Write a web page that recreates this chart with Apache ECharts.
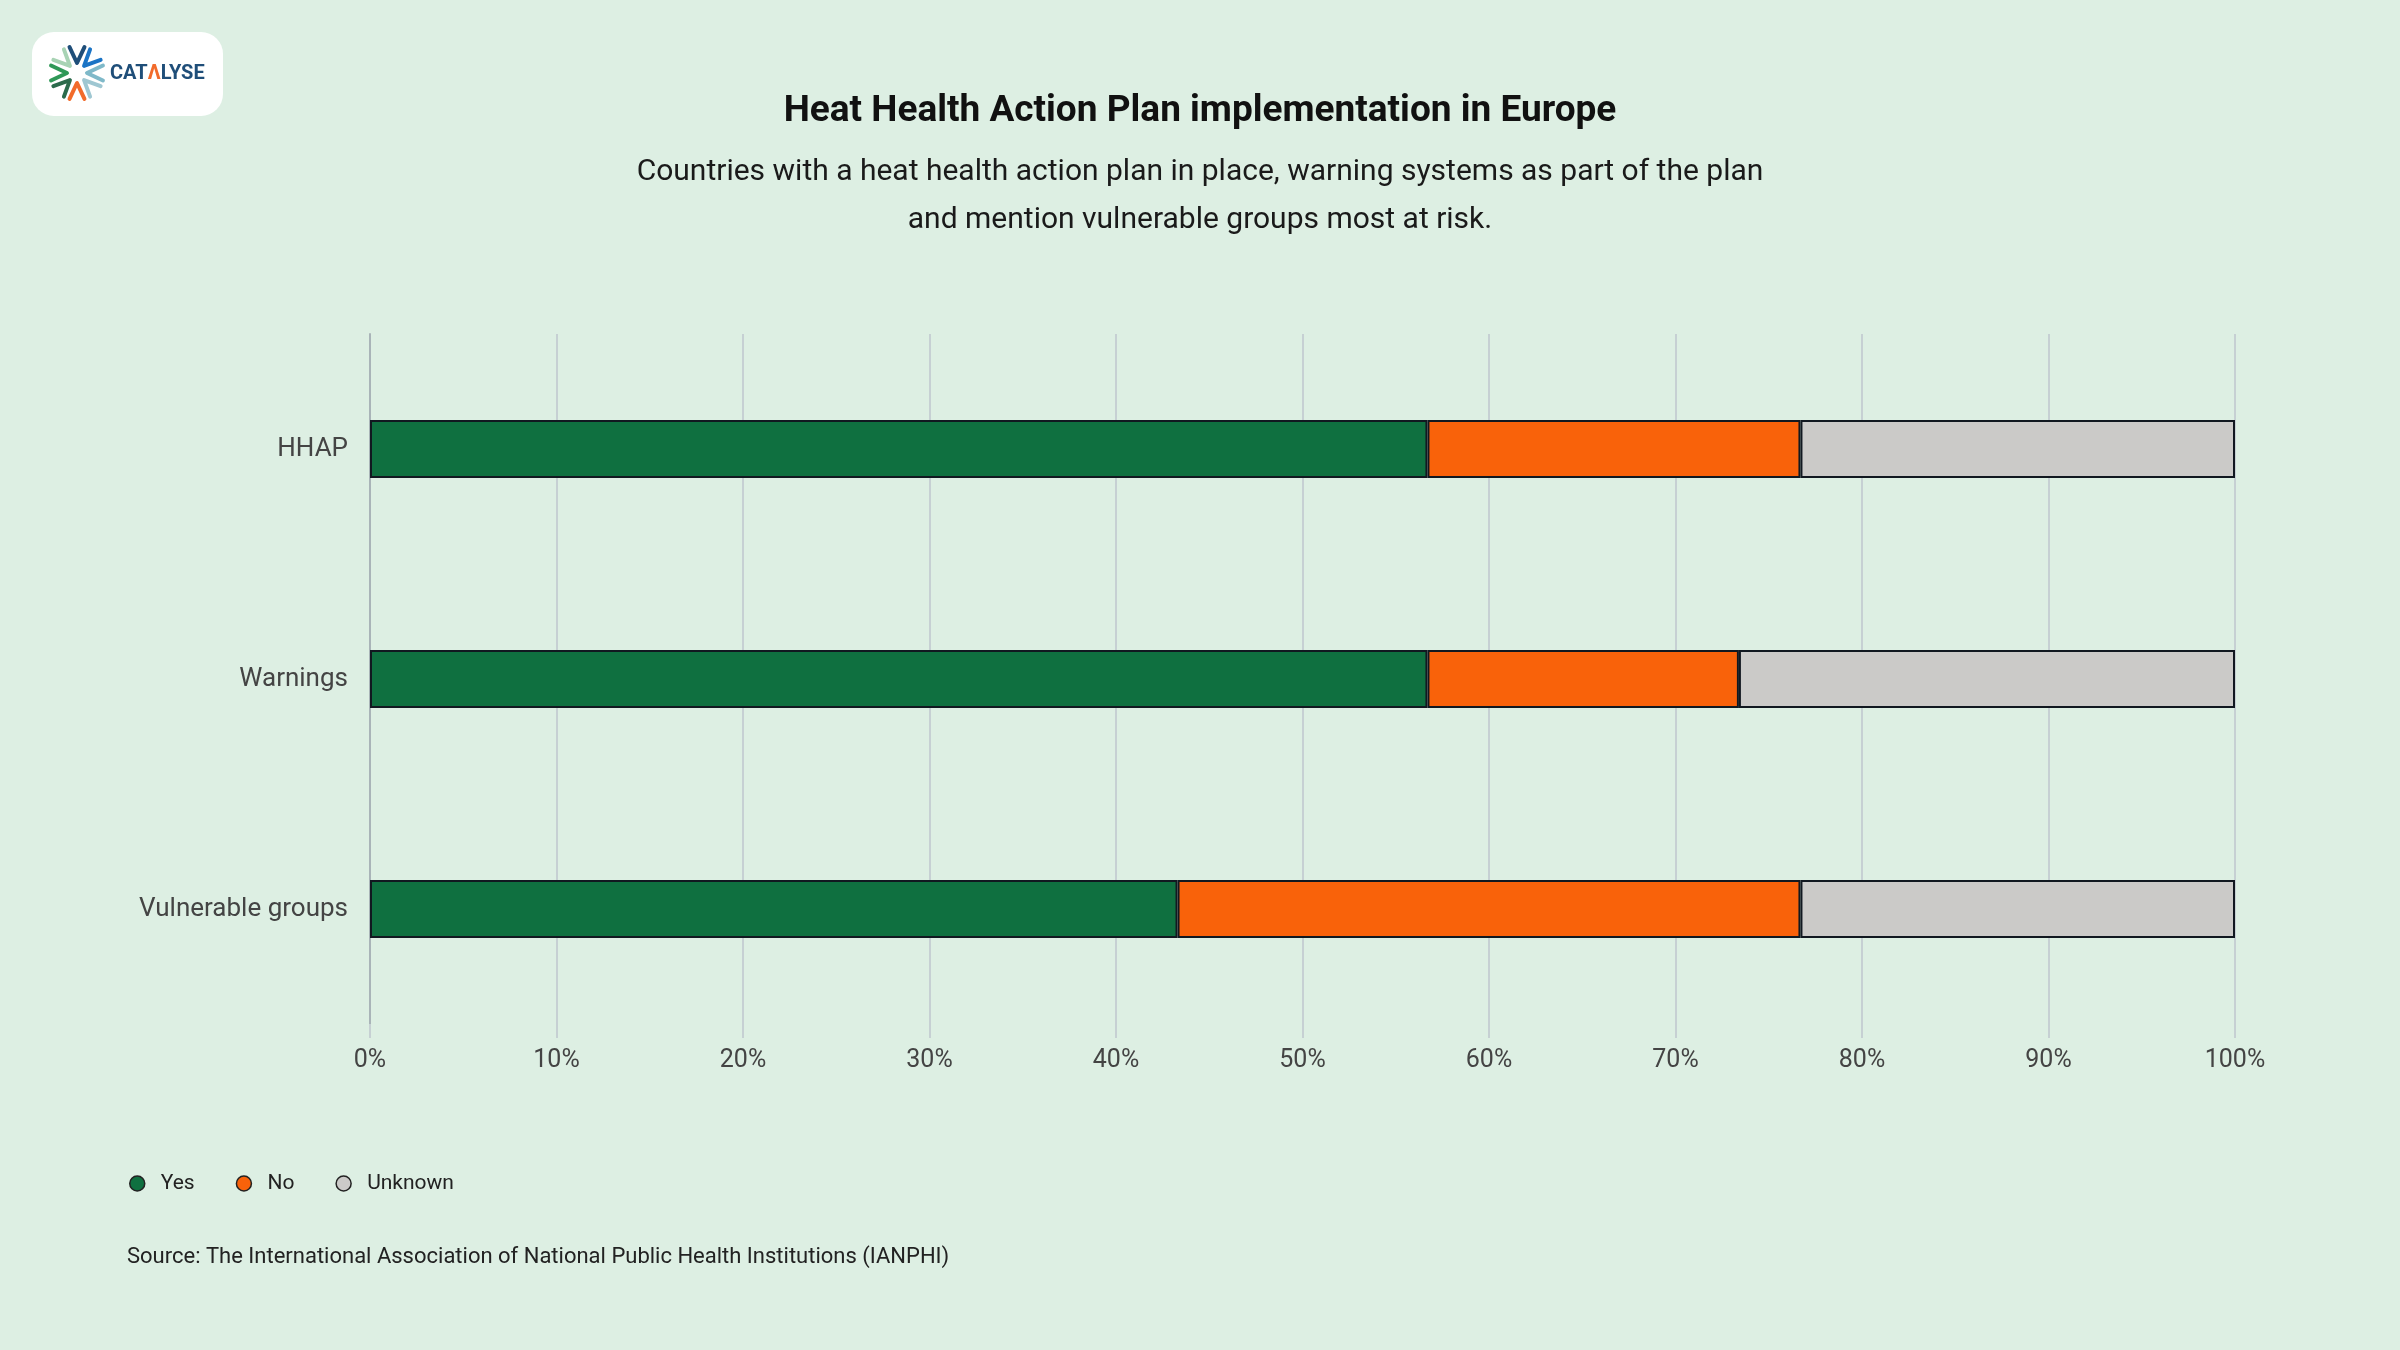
<!DOCTYPE html>
<html>
<head>
<meta charset="utf-8">
<title>Heat Health Action Plan implementation in Europe</title>
<script src="https://cdn.jsdelivr.net/npm/echarts@6/dist/echarts.min.js"></script>
<style>
  html, body { margin: 0; padding: 0; background: #ddefe3; }
  #chart { width: 2400px; height: 1350px; }
</style>
</head>
<body>
<div id="chart"></div>
<script>
// data (share of countries, %)
const categories = ['HHAP', 'Warnings', 'Vulnerable groups'];
const yesValues = [56.7, 56.7, 43.3];
const noValues = [20.0, 16.7, 33.4];
const unknownValues = [23.3, 26.6, 23.3];
const seriesNames = ['Yes', 'No', 'Unknown'];
const seriesColors = ['#0f7040', '#f9620a', '#cbcac8'];

const FONT = 'Roboto, "Noto Sans", sans-serif';

// logo: white rounded card with a starburst of chevrons and the wordmark
const logoColors = ['#1f4e79', '#1b74c5', '#7fb9c9', '#9fc7d2', '#f26b2b', '#2c6b4c', '#2f9857', '#a8d3b4'];
const logoCx = 77, logoCy = 73;
const chevrons = logoColors.map((c, i) => {
  const a = -Math.PI / 2 + i * Math.PI / 4;
  const pt = (r, da) => [logoCx + r * Math.cos(a + da), logoCy + r * Math.sin(a + da)];
  return {
    type: 'polyline',
    shape: { points: [pt(27, -0.28), pt(10, 0), pt(27, 0.28)] },
    style: { stroke: c, lineWidth: 4, fill: null, lineCap: 'round', lineJoin: 'round' },
    z: 101
  };
});

const chart = echarts.init(document.getElementById('chart'));

const makeSeries = (name, values, color) => ({
  name: name,
  type: 'bar',
  stack: 'total',
  barWidth: 58,
  data: values,
  itemStyle: { color: color, borderColor: '#111820', borderWidth: 2 },
  emphasis: { disabled: true }
});

chart.setOption({
  backgroundColor: '#ddefe3',
  textStyle: { fontFamily: FONT },
  title: [
    {
      text: 'Source: The International Association of National Public Health Institutions (IANPHI)',
      left: 122,
      top: 1241,
      textStyle: { fontFamily: FONT, fontSize: 22, fontWeight: 'normal', color: '#222' }
    }
  ],
  legend: {
    data: seriesNames,
    left: 124,
    top: 1168,
    icon: 'circle',
    itemWidth: 15,
    itemHeight: 15,
    itemGap: 41,
    selectedMode: false,
    itemStyle: { borderColor: '#222', borderWidth: 1.5 },
    textStyle: { fontFamily: FONT, fontSize: 21, color: '#222', padding: [0, 0, 0, 11] }
  },
  tooltip: { trigger: 'axis', axisPointer: { type: 'none' }, valueFormatter: v => v + '%' },
  grid: { left: 370, right: 165, top: 334, bottom: 326 },
  xAxis: {
    type: 'value',
    min: 0,
    max: 100,
    interval: 10,
    axisLine: { show: false },
    axisTick: { show: true, length: 14, lineStyle: { color: '#c6d0d3', width: 2 } },
    splitLine: { show: true, lineStyle: { color: '#c6d0d3', width: 2 } },
    axisLabel: { formatter: '{value}%', fontFamily: FONT, fontSize: 25, color: '#444', margin: 24 }
  },
  yAxis: {
    type: 'category',
    data: categories,
    inverse: true,
    axisLine: { show: true, lineStyle: { color: '#a9b4b8', width: 2 } },
    axisTick: { show: false },
    axisLabel: { fontFamily: FONT, fontSize: 26, color: '#444', margin: 22 }
  },
  series: [
    makeSeries(seriesNames[0], yesValues, seriesColors[0]),
    makeSeries(seriesNames[1], noValues, seriesColors[1]),
    makeSeries(seriesNames[2], unknownValues, seriesColors[2])
  ],
  graphic: [
    {
      type: 'text',
      x: 1200,
      y: 112,
      style: {
        text: 'Heat Health Action Plan implementation in Europe',
        fontFamily: FONT, fontSize: 37, fontWeight: 'bold', fill: '#111',
        align: 'center', verticalAlign: 'middle'
      }
    },
    {
      type: 'text',
      x: 1200,
      y: 196,
      style: {
        text: 'Countries with a heat health action plan in place, warning systems as part of the plan\nand mention vulnerable groups most at risk.',
        fontFamily: FONT, fontSize: 30, fill: '#1a1a1a', lineHeight: 48,
        align: 'center', verticalAlign: 'middle'
      }
    },
    {
      type: 'rect',
      shape: { x: 32, y: 32, width: 191, height: 84, r: 22 },
      style: { fill: '#ffffff' },
      z: 100
    },
    ...chevrons,
    {
      type: 'text',
      x: 110,
      y: 74,
      style: {
        text: '{b|CAT}{o|Λ}{b|LYSE}',
        verticalAlign: 'middle',
        rich: {
          b: { fontFamily: FONT, fontSize: 20, fontWeight: 'bold', fill: '#1f4e79', color: '#1f4e79' },
          o: { fontFamily: FONT, fontSize: 20, fontWeight: 'bold', fill: '#f26b2b', color: '#f26b2b' }
        }
      },
      z: 101
    }
  ]
});

window.addEventListener('resize', () => chart.resize());
</script>
</body>
</html>
